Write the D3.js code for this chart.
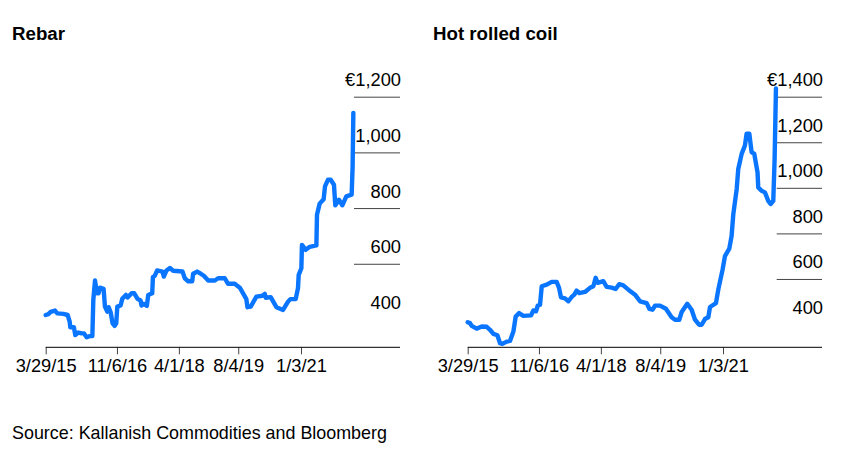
<!DOCTYPE html>
<html>
<head>
<meta charset="utf-8">
<script src="https://d3js.org/d3.v7.min.js"></script>
<style>
body { margin: 0; background: #fff; }
text { font-family: "Liberation Sans", Arial, sans-serif; fill: #000; }
</style>
</head>
<body>
<script>
// Data: days since the first date, euros per ton
var startDate = '2015-03-29';
var tickDates = ['2015-03-29', '2016-11-06', '2018-04-01', '2019-08-04', '2021-01-03'];
var tickLabels = ['3/29/15', '11/6/16', '4/1/18', '8/4/19', '1/3/21'];

var rebarDays = [0, 22, 41, 77, 96, 146, 181, 198, 203, 233, 244, 269, 297, 316, 338, 360, 385, 393, 407, 423,
    437, 448, 478, 489, 508, 519, 536, 552, 569, 582, 591, 618, 632, 662, 676, 709, 731, 758, 783, 791,
    810, 835, 846, 879, 885, 901, 920, 964, 975, 997, 1025, 1052, 1129, 1148, 1176, 1209, 1217, 1250, 1272, 1305,
    1341, 1396, 1423, 1478, 1505, 1560, 1602, 1629, 1656, 1665, 1692, 1739, 1789, 1808, 1816, 1857, 1904, 1959, 2000, 2019,
    2063, 2082, 2088, 2110, 2115, 2146, 2179, 2234, 2239, 2261, 2294, 2305, 2330, 2352, 2379, 2390, 2420, 2448, 2481, 2525,
    2533, 2539];
var rebarValues = [416, 419, 427, 432, 422, 420, 416, 392, 372, 372, 344, 353, 350, 350, 336, 340, 340, 470, 540, 494,
    494, 514, 510, 446, 428, 444, 426, 386, 377, 386, 446, 450, 474, 488, 479, 494, 494, 474, 468, 450,
    456, 449, 488, 494, 552, 557, 576, 572, 554, 576, 585, 575, 572, 548, 537, 537, 564, 572, 566, 557,
    540, 540, 548, 548, 528, 528, 514, 494, 473, 444, 446, 482, 485, 492, 478, 480, 444, 434, 464, 473,
    473, 512, 560, 584, 668, 650, 661, 666, 776, 816, 832, 878, 902, 902, 884, 810, 830, 810, 842, 848,
    950, 1142];
var rebarTicks = [400, 600, 800, 1000, 1200];

var coilDays = [0, 19, 33, 74, 116, 157, 184, 212, 245, 267, 286, 322, 349, 377, 396, 424, 459, 523, 542, 564,
    578, 597, 611, 652, 693, 734, 754, 770, 803, 831, 858, 880, 899, 921, 968, 1009, 1037, 1056, 1073, 1119,
    1147, 1188, 1221, 1251, 1284, 1326, 1381, 1422, 1477, 1499, 1526, 1546, 1587, 1636, 1683, 1711, 1746, 1766, 1812, 1848,
    1876, 1909, 1931, 1958, 1986, 2000, 2049, 2068, 2104, 2123, 2159, 2178, 2192, 2220, 2233, 2261, 2288, 2302, 2324, 2343,
    2365, 2392, 2398, 2425, 2453, 2480, 2500, 2522, 2533, 2544];
var coilValues = [410, 406, 394, 382, 391, 390, 377, 359, 353, 318, 315, 325, 328, 369, 435, 450, 438, 440, 462, 458,
    483, 487, 568, 575, 587, 587, 561, 519, 515, 502, 521, 531, 549, 538, 543, 561, 568, 605, 583, 590,
    565, 562, 556, 577, 572, 553, 531, 502, 494, 469, 465, 483, 483, 469, 432, 421, 421, 455, 491, 465,
    421, 399, 399, 424, 432, 477, 494, 553, 642, 700, 733, 789, 884, 995, 1083, 1149, 1186, 1238, 1238, 1157,
    1149, 1068, 1002, 987, 980, 943, 929, 943, 1127, 1436];
var coilTicks = [400, 600, 800, 1000, 1200, 1400];

var sourceText = 'Source: Kallanish Commodities and Bloomberg';

var width = 856, height = 454;
var plotTop = 96.7, plotBottom = 347.3;
var blue = '#0a75ff';
var parseDate = d3.utcParse('%Y-%m-%d');

var svg = d3.select('body').append('svg')
    .attr('width', width)
    .attr('height', height)
    .style('display', 'block');

function drawPanel(opts) {
    var days = opts.days, values = opts.values, yTicks = opts.yTicks;

    // scale is fixed by the first and last labelled date
    var x = d3.scaleUtc()
        .domain([parseDate(tickDates[0]), parseDate(tickDates[4])])
        .range([opts.left, opts.lastTick]);
    var y = d3.scaleLinear()
        .domain([300, yTicks[yTicks.length - 1]])
        .range([plotBottom, plotTop]);

    svg.append('text')
        .attr('x', opts.titleX)
        .attr('y', 40)
        .attr('font-size', 18.7)
        .attr('font-weight', 'bold')
        .text(opts.title);

    // bottom axis
    var xAxis = d3.axisBottom(x)
        .tickValues(tickDates.map(parseDate))
        .tickFormat(function(d, i) { return tickLabels[i]; })
        .tickSize(7)
        .tickPadding(5)
        .tickSizeOuter(0);
    var gx = svg.append('g')
        .attr('transform', 'translate(0,' + plotBottom + ')')
        .call(xAxis);
    gx.select('.domain').remove();
    gx.append('line')
        .attr('x1', opts.left)
        .attr('x2', opts.right)
        .attr('stroke', '#000');
    gx.selectAll('.tick line').attr('stroke', '#444');
    gx.selectAll('text').attr('font-size', 18.3).attr('fill', '#000').attr('font-family', null);

    // right axis, label sits over its gridline
    var yAxis = d3.axisRight(y)
        .tickValues(yTicks)
        .tickFormat(function(d, i) {
            var s = d3.format(',')(d);
            return i === yTicks.length - 1 ? '\u20AC' + s : s;
        })
        .tickSize(0);
    var gy = svg.append('g')
        .attr('transform', 'translate(' + opts.right + ',0)')
        .call(yAxis);
    gy.select('.domain').remove();
    gy.selectAll('.tick line')
        .attr('x1', opts.gridLeft - opts.right)
        .attr('x2', 0)
        .attr('stroke', function(d) { return d === 400 ? 'none' : '#444'; });
    gy.selectAll('text')
        .attr('x', 1)
        .attr('dy', -11)
        .attr('text-anchor', 'end')
        .attr('font-size', 18.3)
        .attr('fill', '#000')
        .attr('font-family', null);

    var line = d3.line()
        .x(function(d, i) { return x(d3.utcDay.offset(parseDate(startDate), days[i])); })
        .y(function(d) { return y(d); });

    svg.append('path')
        .attr('d', line(values))
        .attr('fill', 'none')
        .attr('stroke', blue)
        .attr('stroke-width', 4.4)
        .attr('stroke-linejoin', 'round')
        .attr('stroke-linecap', 'round');
}

drawPanel({
    title: 'Rebar', titleX: 12,
    days: rebarDays, values: rebarValues, yTicks: rebarTicks,
    left: 45.7, lastTick: 301, right: 400, gridLeft: 354
});
drawPanel({
    title: 'Hot rolled coil', titleX: 433,
    days: coilDays, values: coilValues, yTicks: coilTicks,
    left: 467.7, lastTick: 723, right: 822, gridLeft: 776.7
});

svg.append('text')
    .attr('x', 12)
    .attr('y', 438.5)
    .attr('font-size', 17.9)
    .text(sourceText);
</script>
</body>
</html>
